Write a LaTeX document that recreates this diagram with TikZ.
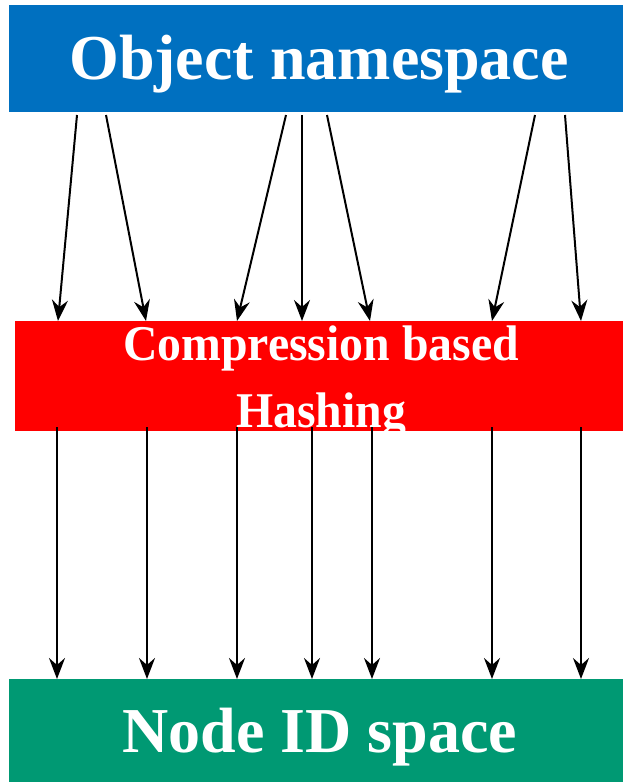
\documentclass[tikz,border=0pt]{standalone}
\usepackage{fontspec}
\setmainfont{Liberation Serif}
\usetikzlibrary{arrows.meta}
\definecolor{objblue}{RGB}{0,112,192}
\definecolor{hashred}{RGB}{255,0,0}
\definecolor{idgreen}{RGB}{0,153,115}
\tikzset{
  band/.style={draw=none, inner sep=0pt, outer sep=0pt, anchor=north west},
  bigtext/.style={text=white, inner sep=0pt, anchor=base, font=\bfseries\fontsize{64}{70}\selectfont},
  midtext/.style={text=white, inner sep=0pt, anchor=base, font=\bfseries\fontsize{50}{68}\selectfont},
  maparrow/.style={draw=black, line width=2pt, -{Stealth[length=21pt, width=16pt, inset=7pt]}}
}
\begin{document}
\begin{tikzpicture}[x=1pt, y=-1pt]
\useasboundingbox (0,0) rectangle (623,782);
% bands
\node[band, fill=objblue, minimum width=614pt, minimum height=107pt] (objns) at (9,5) {};
\node[band, fill=hashred, minimum width=608pt, minimum height=110pt] (hash) at (15,321) {};
\node[band, fill=idgreen, minimum width=614pt, minimum height=103pt] (nodeid) at (9,679) {};
% labels
\node[bigtext] (objlbl) at (319,79) {Object namespace};
\node[midtext] (hashlbl1) at (321,360) {\scalebox{0.955}[1]{Compression based}};
\node[midtext] (hashlbl2) at (321,427) {\scalebox{0.955}[1]{Hashing}};
\node[bigtext] (idlbl) at (320,752) {Node ID space};
% coordinates on the bands
\foreach \i/\x in {1/77,2/106,3/286,4/302,5/327,6/535,7/565} {
  \coordinate (s\i) at (\x,115);
}
\foreach \i/\x in {1/58,2/146,3/237,4/302,5/370,6/492,7/581} {
  \coordinate (e\i) at (\x,321);
}
\foreach \i/\x in {1/57,2/147,3/237,4/312,5/372,6/492,7/581} {
  \coordinate (b\i) at (\x,427);
  \coordinate (d\i) at (\x,679);
}
% arrows
\foreach \i in {1,...,7} {
  \draw[maparrow] (s\i) -- (e\i);
  \draw[maparrow] (b\i) -- (d\i);
}
\end{tikzpicture}
\end{document}
